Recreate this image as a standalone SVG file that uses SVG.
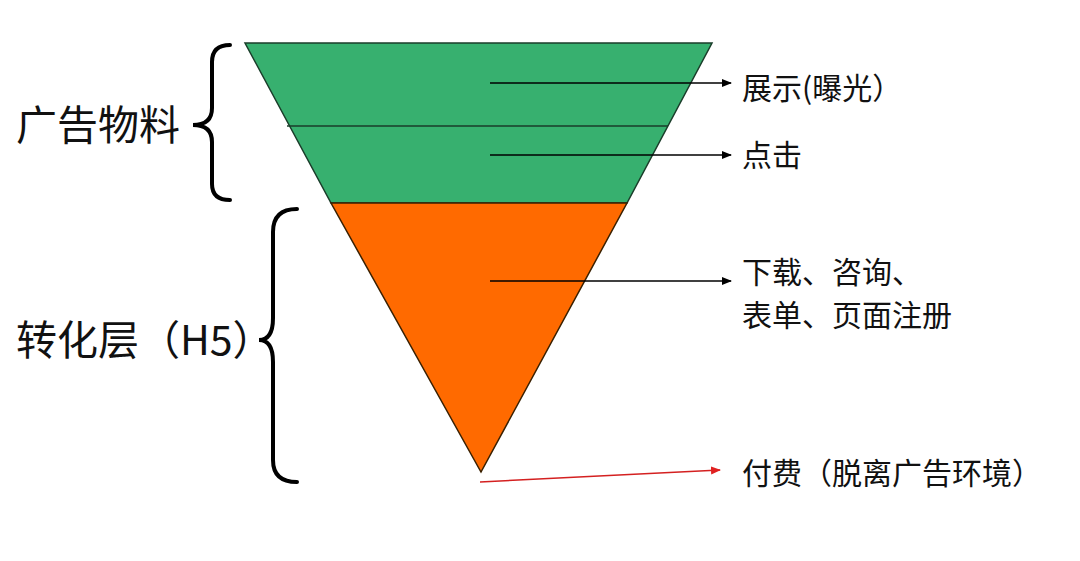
<svg xmlns="http://www.w3.org/2000/svg" width="1080" height="561" viewBox="0 0 1080 561">
<style>
.lbl{font-family:"Noto Sans CJK SC","Liberation Serif",sans-serif;font-size:30px;fill:#111}
.big{font-family:"Noto Sans CJK SC","Liberation Serif",sans-serif;font-size:41px;fill:#111}
.brace{fill:none;stroke:#000;stroke-width:4;stroke-linecap:round}
.conn{stroke:#000;stroke-width:1.5;fill:none}
</style>
<defs>
<marker id="ah" markerWidth="10" markerHeight="10" refX="9" refY="5" orient="auto" markerUnits="userSpaceOnUse"><path d="M0,1 L10,5 L0,9 Z" fill="#000"/></marker>
<marker id="ahr" markerWidth="10" markerHeight="10" refX="9" refY="5" orient="auto" markerUnits="userSpaceOnUse"><path d="M0,1 L10,5 L0,9 Z" fill="#e02020"/></marker>
</defs>
<rect width="1080" height="561" fill="#fff"/>
<g id="funnel-ad">
<polygon points="245,43 712,43 627,203 331,203" fill="#37b06f" stroke="#1a3d2a" stroke-width="1.5"/>
<line x1="287" y1="126" x2="668" y2="126" stroke="#1a3d2a" stroke-width="1.5"/>
</g>
<g id="funnel-conv">
<polygon points="331,203 627,203 481,472" fill="#ff6a00" stroke="#3a2000" stroke-width="1.5"/>
</g>
<g id="brace-ad"><path class="brace" d="M230,45 Q212,45 212,62 L212,108 Q212,125 193,125 Q212,125 212,142 L212,184 Q212,200 230,200"/></g>
<g id="brace-conv"><path class="brace" d="M297,209 Q273,209 273,232 L273,318 Q273,340 259,340 Q273,340 273,362 L273,460 Q273,482 297,482"/></g>
<g id="label-ad"><text class="big" x="16" y="140">广告物料</text></g>
<g id="label-conv"><text class="big" x="16" y="355">转化层（H5）</text></g>
<g id="label-show"><text class="lbl" x="742" y="99">展示(曝光）</text></g>
<g id="label-click"><text class="lbl" x="742" y="166">点击</text></g>
<g id="label-conv-items"><text class="lbl" x="742" y="283">下载、咨询、</text><text class="lbl" x="742" y="326">表单、页面注册</text></g>
<g id="label-pay"><text class="lbl" x="742" y="484">付费（脱离广告环境）</text></g>
<g id="connectors">
<line class="conn" x1="490" y1="83" x2="731" y2="83" marker-end="url(#ah)"/>
<line class="conn" x1="490" y1="155" x2="731" y2="155" marker-end="url(#ah)"/>
<line class="conn" x1="490" y1="281" x2="731" y2="281" marker-end="url(#ah)"/>
<line x1="480" y1="482" x2="720" y2="470" stroke="#d42020" stroke-width="1.5" marker-end="url(#ahr)"/>
</g>
</svg>
